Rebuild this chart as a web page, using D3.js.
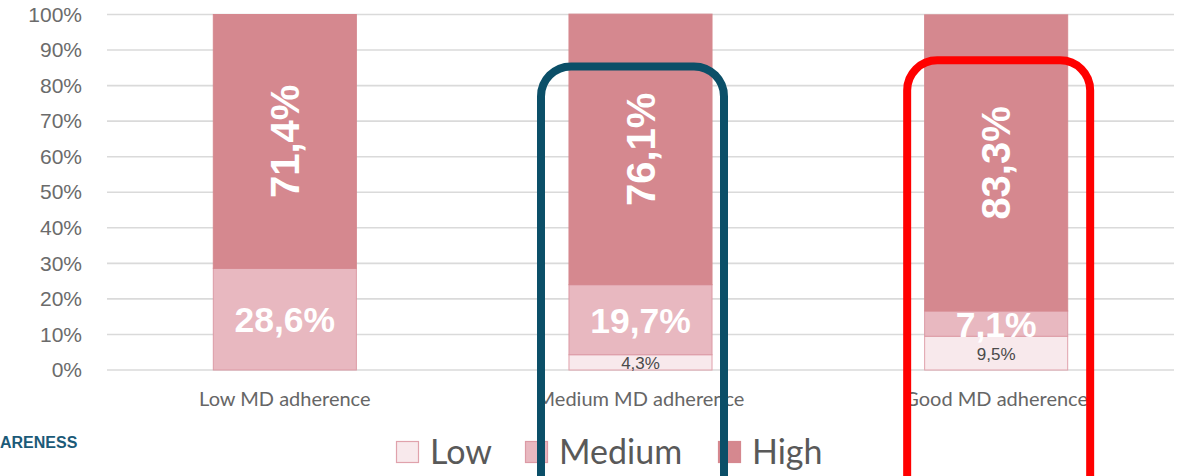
<!DOCTYPE html>
<html>
<head>
<meta charset="utf-8">
<script src="https://cdn.jsdelivr.net/npm/d3@7"></script>
<style>
  body { margin: 0; background: #fff; }
  svg { display: block; }
</style>
</head>
<body>
<script>
(function() {
    var width = 1178, height = 476;

    // data
    var categories = ["Low MD adherence", "Medium MD adherence", "Good MD adherence"];
    var levels = ["Low", "Medium", "High"];
    var lowValues = [0, 4.3, 9.5];
    var mediumValues = [28.6, 19.7, 7.1];
    var highValues = [71.4, 76.1, 83.3];
    var yTicks = [0, 10, 20, 30, 40, 50, 60, 70, 80, 90, 100];
    // highlight boxes: category, top value (%), shift from bar centre
    var highlights = [
        { cat: "Medium MD adherence", top: 85.4, dx: -99.5, color: "#0b4f68" },
        { cat: "Good MD adherence", top: 87.1, dx: -89, color: "#ff0000" }
    ];

    var fills = { Low: "#f8e9ec", Medium: "#e8b8c0", High: "#d5888f" };
    var strokes = { Low: "#e0a2ac", Medium: "#dc9aa5", High: "#d5888f" };

    var svg = d3.select("body")
        .append("svg")
        .attr("width", width)
        .attr("height", height);

    var x = d3.scaleBand()
        .domain(categories)
        .range([107, 1174])
        .paddingInner(0.595)
        .paddingOuter(0.2975);

    var y = d3.scaleLinear()
        .domain([0, 100])
        .range([370, 14.5]);

    // gridlines
    svg.append("g")
        .selectAll("line")
        .data(yTicks)
        .enter()
        .append("line")
        .attr("x1", 107)
        .attr("x2", 1174)
        .attr("y1", d => y(d))
        .attr("y2", d => y(d))
        .attr("stroke", "#dadada")
        .attr("stroke-width", 1.6);

    // y axis labels
    var yAxis = d3.axisLeft(y)
        .tickValues(yTicks)
        .tickFormat(d => d + "%")
        .tickSize(0)
        .tickPadding(0);

    var yG = svg.append("g")
        .attr("transform", "translate(82,0)")
        .call(yAxis);
    yG.select(".domain").remove();
    yG.selectAll("text")
        .attr("font-family", "'Liberation Sans', Arial, sans-serif")
        .attr("font-size", 21)
        .attr("fill", "#6b6b6b");

    // stacked data
    var rows = categories.map((c, i) => ({
        cat: c, Low: lowValues[i], Medium: mediumValues[i], High: highValues[i]
    }));
    var series = d3.stack().keys(levels)(rows);

    var layer = svg.selectAll(".layer")
        .data(series)
        .enter()
        .append("g")
        .attr("class", "layer");

    layer.selectAll("rect")
        .data(d => d.map(v => ({ key: d.key, v: v })))
        .enter()
        .filter(d => d.v[1] - d.v[0] > 0)
        .append("rect")
        .attr("x", d => x(d.v.data.cat) + 0.5)
        .attr("width", x.bandwidth() - 1)
        .attr("y", d => y(d.v[1]))
        .attr("height", d => y(d.v[0]) - y(d.v[1]))
        .attr("fill", d => fills[d.key])
        .attr("stroke", d => strokes[d.key])
        .attr("stroke-width", 1);

    // labels
    var fmt = v => v.toFixed(1).replace(".", ",") + "%";

    series.forEach(s => {
        s.forEach(v => {
            var val = v[1] - v[0];
            if (val <= 0) return;
            var cx = x(v.data.cat) + x.bandwidth() / 2;
            var cy = (y(v[0]) + y(v[1])) / 2;
            var t = svg.append("text")
                .attr("text-anchor", "middle")
                .attr("dominant-baseline", "central")
                .attr("font-family", "'Liberation Sans', Arial, sans-serif")
                .text(fmt(val));
            if (s.key === "High") {
                t.attr("transform", `translate(${cx},${cy}) rotate(-90)`)
                    .attr("font-size", 40)
                    .attr("font-weight", "bold")
                    .attr("fill", "#fff");
            } else if (s.key === "Medium") {
                t.attr("x", cx).attr("y", cy + 1)
                    .attr("font-size", 35.5)
                    .attr("font-weight", "bold")
                    .attr("fill", "#fff");
            } else {
                t.attr("x", cx).attr("y", cy + 1)
                    .attr("font-size", 17)
                    .attr("fill", "#4a4a4a");
            }
        });
    });

    // category labels
    svg.append("g")
        .selectAll("text")
        .data(categories)
        .enter()
        .append("text")
        .attr("x", d => x(d) + x.bandwidth() / 2)
        .attr("y", 406)
        .attr("text-anchor", "middle")
        .attr("font-family", "Lato, sans-serif")
        .attr("font-size", 20)
        .attr("fill", "#666")
        .text(d => d);

    // legend
    var legendItems = [
        { key: "Low", x: 396, tx: 430 },
        { key: "Medium", x: 525, tx: 559 },
        { key: "High", x: 718, tx: 752 }
    ];
    var legend = svg.append("g");
    legend.selectAll("rect")
        .data(legendItems)
        .enter()
        .append("rect")
        .attr("x", d => d.x + 0.5)
        .attr("y", 441.5)
        .attr("width", 22)
        .attr("height", 21)
        .attr("fill", d => fills[d.key])
        .attr("stroke", d => strokes[d.key])
        .attr("stroke-width", 1.2);
    legend.selectAll("text")
        .data(legendItems)
        .enter()
        .append("text")
        .attr("x", d => d.tx)
        .attr("y", 464)
        .attr("font-family", "Lato, sans-serif")
        .attr("font-size", 34)
        .attr("fill", "#595959")
        .text(d => d.key);

    // cut-off logo text
    svg.append("text")
        .attr("x", 0)
        .attr("y", 448)
        .attr("font-family", "'Liberation Sans', Arial, sans-serif")
        .attr("font-weight", "bold")
        .attr("font-size", 16)
        .attr("fill", "#1b5a78")
        .text("ARENESS");

    // highlight boxes
    svg.append("g")
        .selectAll("rect")
        .data(highlights)
        .enter()
        .append("rect")
        .attr("x", d => x(d.cat) + x.bandwidth() / 2 + d.dx)
        .attr("y", d => y(d.top))
        .attr("width", 183)
        .attr("height", 480)
        .attr("rx", 30)
        .attr("ry", 30)
        .attr("fill", "none")
        .attr("stroke", d => d.color)
        .attr("stroke-width", 8);
})();
</script>
</body>
</html>
